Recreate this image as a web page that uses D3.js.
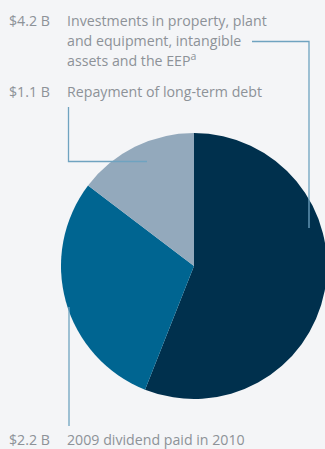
<!DOCTYPE html>
<html>
<head>
<meta charset="utf-8">
<script src="https://cdn.jsdelivr.net/npm/d3@7"></script>
<style>
  html, body { margin: 0; padding: 0; background: #f4f5f7; }
  svg { display: block; }
  text { font-family: "Open Sans", "Noto Sans", sans-serif; fill: #8d9298; font-size: 14.2px; }
</style>
</head>
<body>
<svg id="chart" width="325" height="449"></svg>
<script>
// Uses of cash, in billions of dollars
const categories = [
  "Investments in property, plant and equipment, intangible assets and the EEP",
  "2009 dividend paid in 2010",
  "Repayment of long-term debt"
];
const amounts = [4.2, 2.2, 1.1];
const amountLabels = ["$4.2 B", "$2.2 B", "$1.1 B"];
const sliceColors = ["#00304d", "#006591", "#93a9bc"];

const svg = d3.select("#chart");
const cx = 194, cy = 266, radius = 133;

const pie = d3.pie().sort(null).value(d => d)(amounts);
const arc = d3.arc().innerRadius(0).outerRadius(radius);

svg.append("g")
  .attr("transform", `translate(${cx},${cy})`)
  .selectAll("path")
  .data(pie)
  .join("path")
  .attr("d", arc)
  .attr("fill", (d, i) => sliceColors[i]);

// Leader lines
const leader = svg.append("g")
  .attr("fill", "none")
  .attr("stroke", "#6fa3c0")
  .attr("stroke-width", 1.3);
leader.append("path").attr("d", "M252,41.5H309V228");
leader.append("path").attr("d", "M68.5,107V161.5H147");
leader.append("path").attr("d", "M69,307V426");

// Labels
const labelX = 9, textX = 67;
function label(amount, lines, baseline) {
  svg.append("text").attr("x", labelX).attr("y", baseline).text(amount);
  lines.forEach((line, k) => {
    const t = svg.append("text").attr("x", textX).attr("y", baseline + k * 20);
    if (typeof line === "string") t.text(line);
    else {
      t.append("tspan").text(line[0]);
      t.append("tspan").attr("dy", -6).attr("font-size", "10.5px").text(line[1]);
    }
  });
}
label(amountLabels[0], ["Investments in property, plant", "and equipment, intangible", ["assets and the EEP", "a"]], 26);
label(amountLabels[2], ["Repayment of long-term debt"], 97);
label(amountLabels[1], ["2009 dividend paid in 2010"], 445);
</script>
</body>
</html>
